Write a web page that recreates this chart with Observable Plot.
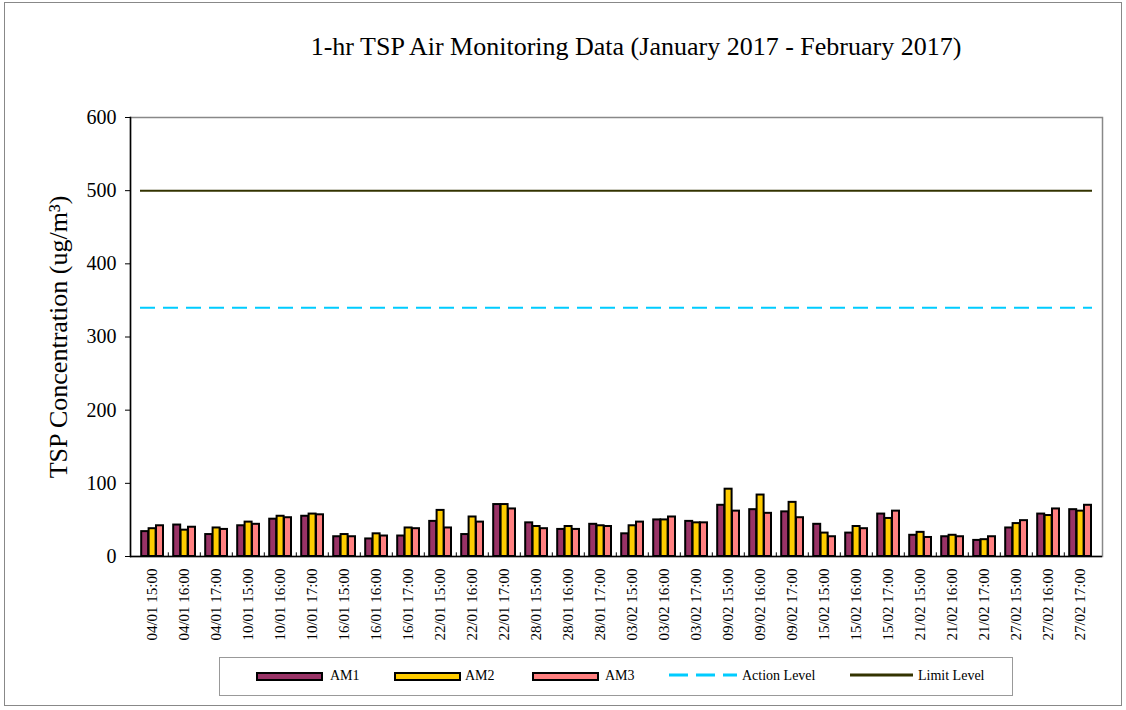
<!DOCTYPE html>
<html>
<head>
<meta charset="utf-8">
<script src="https://cdn.jsdelivr.net/npm/d3@7"></script>
<script src="https://cdn.jsdelivr.net/npm/@observablehq/plot@0.6"></script>
<style>
  body { margin: 0; background: #fff; font-family: "Liberation Serif", "Times New Roman", serif; }
  #wrap { position: absolute; left: 4px; top: 2px; width: 1116px; height: 702px; border: 1px solid #888; background: #fff; }
  #title { position: absolute; left: 0; width: 1262px; top: 29px; line-height: 30px; text-align: center; font-size: 26px; color: #000; white-space: nowrap; }
  #chart { position: absolute; left: 0; top: 0; }
  #legend { position: absolute; left: 214px; top: 654px; width: 792px; height: 37px; border: 1px solid #999; }
  .sw { position: absolute; top: 14px; width: 63px; height: 5px; border: 2px solid #000; }
  .tx { position: absolute; top: 9px; font-size: 14px; line-height: 18px; color: #000; }
  .lsvg { position: absolute; top: 12px; }
</style>
</head>
<body>
<div id="wrap">
  <div id="chart"></div>
  <div id="title">1-hr TSP Air Monitoring Data (January 2017 - February 2017)</div>
  <div id="legend">
    <div class="sw" style="left:36px; background:#993366"></div><div class="tx" style="left:110px">AM1</div>
    <div class="sw" style="left:174px; background:#FFCC00"></div><div class="tx" style="left:245px">AM2</div>
    <div class="sw" style="left:312px; background:#FF8080"></div><div class="tx" style="left:385px">AM3</div>
    <svg class="lsvg" style="left:449px" width="70" height="10"><line x1="0" y1="5" x2="68" y2="5" stroke="#00CCFF" stroke-width="3" stroke-dasharray="19,8"/></svg>
    <div class="tx" style="left:522px">Action Level</div>
    <svg class="lsvg" style="left:630px" width="66" height="10"><line x1="0" y1="5" x2="63" y2="5" stroke="#333300" stroke-width="3"/></svg>
    <div class="tx" style="left:698px">Limit Level</div>
  </div>
</div>
<script>
const times = [
  "04/01 15:00","04/01 16:00","04/01 17:00",
  "10/01 15:00","10/01 16:00","10/01 17:00",
  "16/01 15:00","16/01 16:00","16/01 17:00",
  "22/01 15:00","22/01 16:00","22/01 17:00",
  "28/01 15:00","28/01 16:00","28/01 17:00",
  "03/02 15:00","03/02 16:00","03/02 17:00",
  "09/02 15:00","09/02 16:00","09/02 17:00",
  "15/02 15:00","15/02 16:00","15/02 17:00",
  "21/02 15:00","21/02 16:00","21/02 17:00",
  "27/02 15:00","27/02 16:00","27/02 17:00"
];
const am1 = [34,43,30, 42,51,55, 27,24,28, 48,30,71, 46,37,44, 31,50,48, 70,64,61, 44,32,58, 29,27,22, 39,58,64];
const am2 = [38,36,39, 47,55,58, 30,31,39, 63,54,71, 41,41,42, 42,50,46, 92,84,74, 32,41,52, 33,29,23, 45,56,62];
const am3 = [42,40,37, 44,53,57, 27,28,38, 39,47,65, 38,37,41, 47,54,46, 62,59,53, 27,38,62, 26,27,27, 49,65,70];
const actionLevel = 340;
const limitLevel = 500;
const yTicks = [0,100,200,300,400,500,600];

const font = "Liberation Serif";
const W = 1116, H = 650;
const left = 125, right = 1097;
const band = (right - left) / times.length;
const barW = 7.4, off = 5.2;

const series = [
  {name: "AM1", values: am1, color: "#993366", idx: 0},
  {name: "AM2", values: am2, color: "#FFCC00", idx: 1},
  {name: "AM3", values: am3, color: "#FF8080", idx: 2}
];

const barMarks = series.map(s => {
  const data = times.map((t, i) => ({t, v: s.values[i]}));
  const il = off + s.idx * barW;
  return Plot.barY(data, {
    x: "t", y: "v", fill: s.color, stroke: "#000", strokeWidth: 2,
    insetLeft: il, insetRight: band - il - barW
  });
});

const chart = Plot.plot({
  width: W, height: H,
  marginLeft: left, marginRight: W - right, marginTop: 114, marginBottom: H - 553,
  style: {fontFamily: font, background: "transparent"},
  x: {domain: times, padding: 0, label: null},
  y: {domain: [0, 600], label: null},
  marks: [
    Plot.frame({stroke: "#888", strokeWidth: 1.5}),
    Plot.ruleY([actionLevel], {stroke: "#00CCFF", strokeWidth: 2, strokeDasharray: "15,8", insetLeft: 10, insetRight: 10}),
    Plot.ruleY([limitLevel], {stroke: "#333300", strokeWidth: 2, insetLeft: 10, insetRight: 10}),
    ...barMarks,
    Plot.ruleX(times.slice(1), {x: d => d, y1: 0, y2: 5, dx: -band / 2, stroke: "#000", strokeWidth: 1}),
    Plot.ruleY([0], {stroke: "#000", strokeWidth: 1.5}),
    Plot.frame({anchor: "left", stroke: "#000", strokeWidth: 1.5}),
    Plot.axisY({ticks: yTicks, tickSize: 5, tickPadding: 9, fontSize: 20, fontFamily: font, label: null, tickFormat: d => String(d)}),
    Plot.axisX({tickRotate: -90, tickSize: 0, tickPadding: 12, fontSize: 15, fontFamily: font, label: null}),
    Plot.text(["TSP Concentration (ug/m³)"], {frameAnchor: "left", textAnchor: "middle", dx: -72, rotate: -90, fontSize: 26, fontFamily: font, fill: "#000"})
  ]
});
document.getElementById("chart").appendChild(chart);
</script>
</body>
</html>
